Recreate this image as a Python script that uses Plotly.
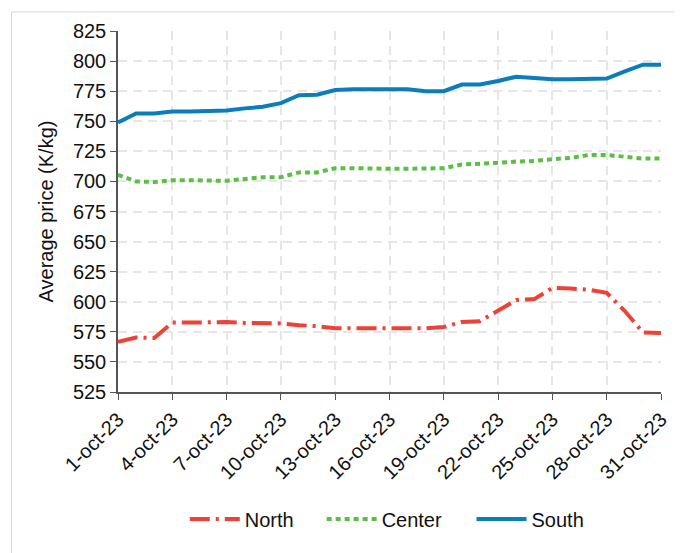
import plotly.graph_objects as go
import pandas as pd

dates = pd.date_range("2023-10-01", "2023-10-31", freq="D").strftime("%Y-%m-%d").tolist()

north = [566.8, 570.3, 569.8, 582.7, 582.7, 583.2, 583.2, 582.4, 582.0, 582.0,
         580.5, 579.7, 578.0, 578.0, 578.0, 578.0, 578.0, 578.0, 579.0, 583.2,
         583.8, 592.9, 601.4, 602.2, 611.5, 611.0, 610.0, 607.4, 592.3, 574.5, 574.0]
center = [705.4, 700.0, 699.5, 701.0, 701.0, 701.0, 700.5, 702.0, 703.5, 703.5,
          707.5, 707.5, 711.0, 711.0, 710.5, 710.5, 710.5, 710.5, 711.0, 714.0,
          714.5, 715.5, 716.5, 717.0, 718.5, 719.5, 722.0, 722.0, 720.5, 719.0, 719.0]
south = [749.0, 756.5, 756.5, 758.0, 758.0, 758.5, 759.0, 760.7, 762.0, 765.0,
         771.7, 772.0, 776.0, 776.5, 776.5, 776.5, 776.5, 775.0, 775.0, 780.5,
         780.5, 783.5, 787.0, 786.0, 785.0, 785.0, 785.5, 785.5, 791.5, 797.0, 797.0]

tick_dates = dates[::3]
tick_labels = [f"{int(d[8:])}-oct-23" for d in tick_dates]
y_ticks = list(range(525, 826, 25))

FONT = "Liberation Sans, Arial, sans-serif"

fig = go.Figure()
fig.add_trace(go.Scatter(x=dates, y=north, name="North", mode="lines", legend="legend",
                         line=dict(color="#ee4137", width=4, dash="20px,6px,3px,6px")))
fig.add_trace(go.Scatter(x=dates, y=center, name="Center", mode="lines", legend="legend2",
                         line=dict(color="#5cbd47", width=4, dash="5px,4px")))
fig.add_trace(go.Scatter(x=dates, y=south, name="South", mode="lines", legend="legend3",
                         line=dict(color="#0b7dbb", width=4)))

leg_common = dict(orientation="h", xanchor="left", y=-0.352, yanchor="middle",
                  font=dict(size=20), itemwidth=50, bgcolor="rgba(0,0,0,0)")

fig.update_layout(
    width=675, height=545,
    paper_bgcolor="white", plot_bgcolor="white",
    margin=dict(l=110, r=21, t=20, b=161),
    font=dict(family=FONT, size=20, color="#111"),
    showlegend=True,
    legend=dict(x=0.123, **leg_common),
    legend2=dict(x=0.375, **leg_common),
    legend3=dict(x=0.651, **leg_common),
    shapes=[dict(type="rect", xref="paper", yref="paper",
                 x0=-0.196, x1=1.035, y0=-0.47, y1=1.053,
                 line=dict(color="#d9d9d9", width=1), layer="below")],
)

fig.update_xaxes(
    type="date", range=[dates[0], dates[-1]],
    tickmode="array", tickvals=tick_dates, ticktext=tick_labels, tickangle=-45,
    showline=True, linecolor="#555", linewidth=1.5,
    ticks="outside", ticklen=6, tickcolor="#555",
    showgrid=True, gridcolor="#e6e6e6", griddash="9px,6px", gridwidth=1.5,
    zeroline=False, tickfont=dict(size=20),
)
fig.update_yaxes(
    range=[525, 825], tickmode="array", tickvals=y_ticks,
    showline=True, linecolor="#555", linewidth=1.5,
    ticks="outside", ticklen=6, tickcolor="#555",
    showgrid=True, gridcolor="#e6e6e6", griddash="9px,6px", gridwidth=1.5,
    zeroline=False, tickfont=dict(size=20),
    title=dict(text="Average price (K/kg)", font=dict(size=20), standoff=14),
)

fig.write_html("out.html")
